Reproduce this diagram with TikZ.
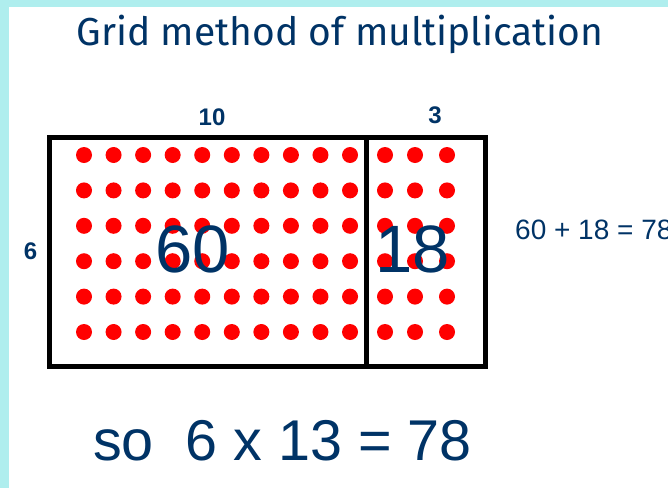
\documentclass[tikz,border=0pt]{standalone}
\usepackage{fontspec}
\setmainfont{Liberation Sans}
\newfontfamily\titlefont{Fira Sans}
\usetikzlibrary{positioning}

\definecolor{navy}{RGB}{0,51,102}
\definecolor{paleaqua}{RGB}{175,238,238}
\definecolor{dotred}{RGB}{255,0,0}

\begin{document}
\begin{tikzpicture}[
  x=1pt, y=-1pt,
  heading/.style={font=\titlefont\fontsize{39}{39}\selectfont, text=navy, inner sep=0pt, anchor=base},
  side/.style={font=\bfseries\fontsize{24}{24}\selectfont, text=navy, inner sep=0pt, anchor=base},
  part/.style={font=\fontsize{67}{67}\selectfont, text=navy, inner sep=0pt, anchor=base},
  sumtext/.style={font=\fontsize{28}{28}\selectfont, text=navy, inner sep=0pt, anchor=base west},
  answertext/.style={font=\fontsize{57.5}{57.5}\selectfont, text=navy, inner sep=0pt, anchor=base},
  dot/.style={fill=dotred},
  frame/.style={line width=5pt, line cap=rect},
  divider/.style={line width=5pt},
]
\clip (0,0) rectangle (668,488);
\fill[paleaqua] (0,0) rectangle (668,488);
\fill[white] (9,7) rectangle (668,488);

% counters: 6 rows of 10, then 6 rows of 3
\foreach \i in {0,...,9}
  \foreach \j in {0,...,5}
    \fill[dot] (84+29.56*\i, 155+35.4*\j) circle (8);
\foreach \x in {385,415,447}
  \foreach \j in {0,...,5}
    \fill[dot] (\x, 155+35.4*\j) circle (8);

% the grid
\draw[frame] (49.5,137) rectangle (485.5,366.5);
\draw[divider] (366,137) -- (366,366.5);

\node[heading] (title) at (340,45) {Grid method of multiplication};
\node[side] (ten) at (212,125) {10};
\node[side] (three) at (435,123) {3};
\node[side] (six) at (30.5,259) {6};
\node[part] (sixty) at (193,272) {60};
\node[part] (eighteen) at (413,272) {18};
\node[sumtext] (total) at (515,239) {60 + 18 = 78};
\node[answertext] (answer) at (282.5,460) {so\ \ 6 x 13 = 78};
\end{tikzpicture}
\end{document}
